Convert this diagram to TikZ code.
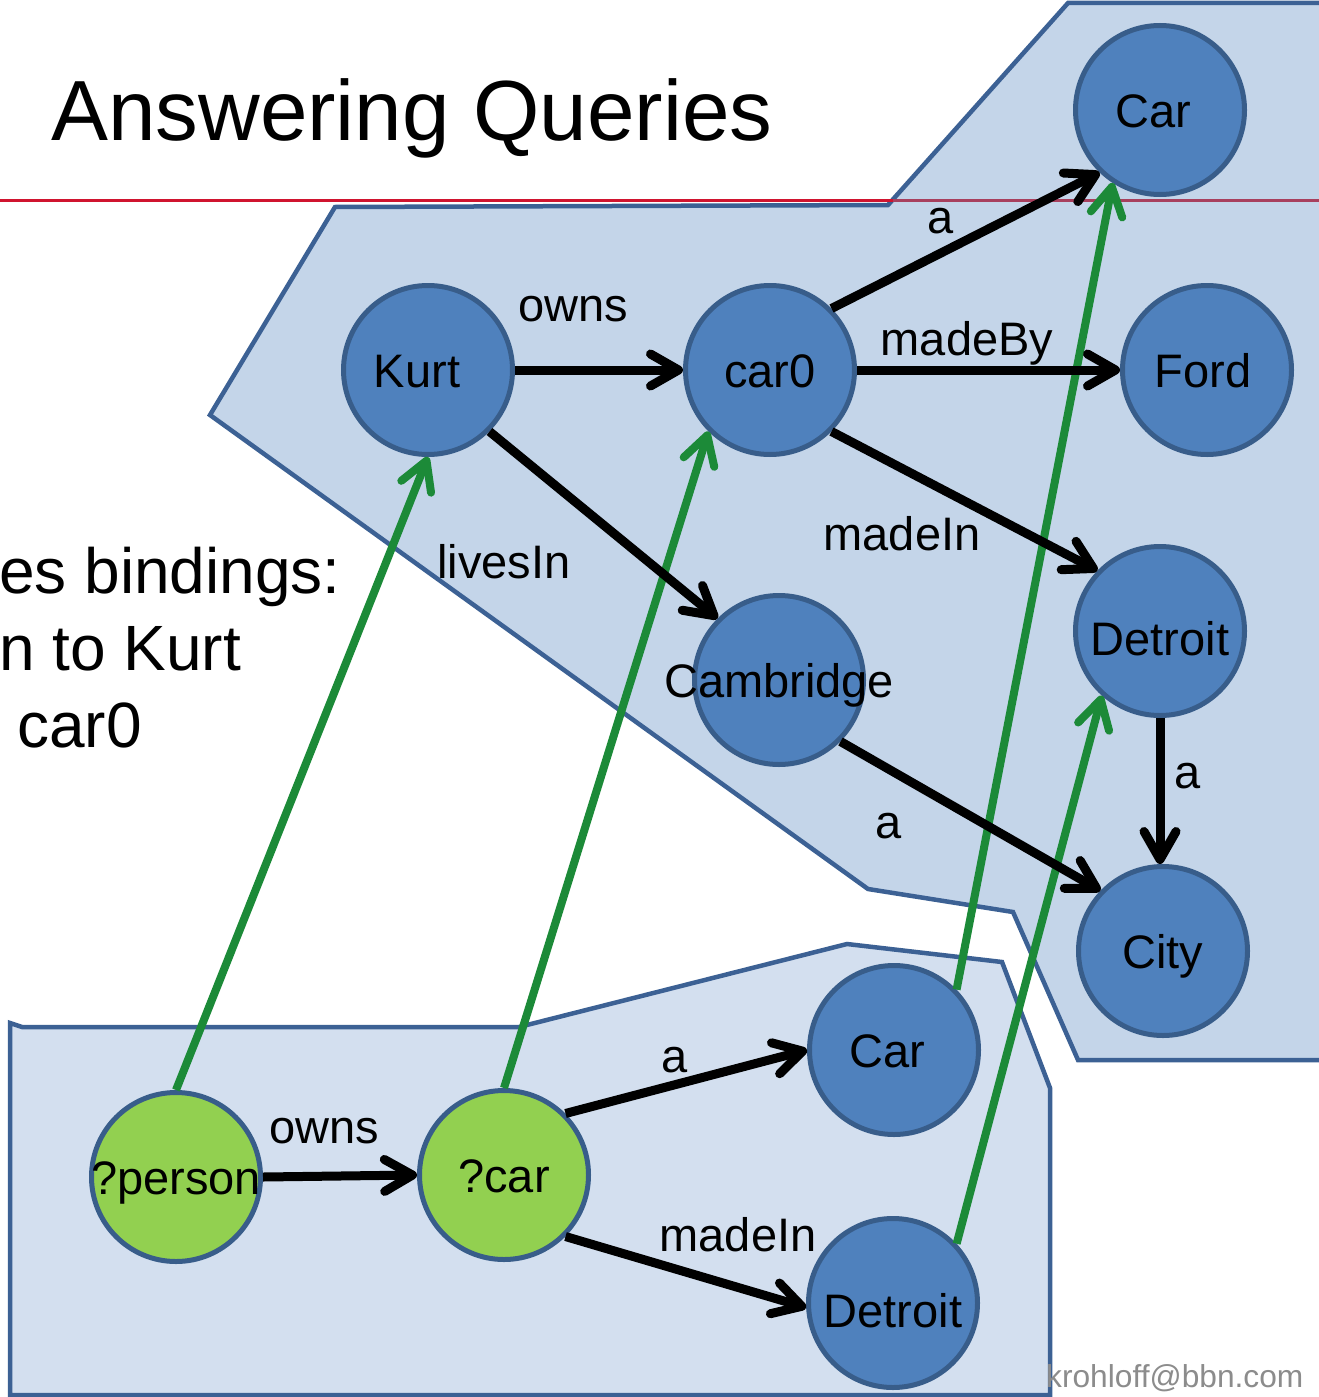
\documentclass[tikz,border=0pt]{standalone}
\usepackage{fontspec}
\setmainfont{Liberation Sans}
\usetikzlibrary{arrows.meta}

\definecolor{nodeblue}{HTML}{4F81BD}
\definecolor{nodeline}{HTML}{385D8A}
\definecolor{vargreen}{HTML}{92D050}
\definecolor{regiontop}{HTML}{C4D5E9}
\definecolor{regionbottom}{HTML}{D3DFEF}
\definecolor{regionline}{HTML}{3C6194}
\definecolor{bindgreen}{HTML}{1C8A38}
\definecolor{ruleRed}{HTML}{D0142F}
\definecolor{ruleDark}{HTML}{A8405E}
\definecolor{footgray}{HTML}{8C8C8C}

\newcommand\graphfont{\fontsize{47}{56}\selectfont}
\newcommand\titlefont{\fontsize{85.4}{100}\selectfont}
\newcommand\sidefont{\fontsize{64}{76}\selectfont}
\newcommand\footfont{\fontsize{31.7}{36}\selectfont}

\tikzset{
  vertex/.style={circle, minimum size=169pt, inner sep=0pt, line width=5pt,
                 draw=nodeline, fill=nodeblue},
  qvar/.style={vertex, fill=vargreen},
  region/.style={line width=4.5pt, draw=regionline, line join=miter},
  link/.style={line width=9pt, draw=black,
               -{Straight Barb[length=28pt,width=32pt,round]}},
  binding/.style={link, line width=8pt, draw=bindgreen},
  vtext/.style={font=\graphfont, inner sep=0pt, text height=35pt, text depth=0pt},
  etext/.style={font=\graphfont, inner sep=0pt, anchor=base},
}

\begin{document}
\begin{tikzpicture}[x=1pt,y=-1pt]
\useasboundingbox (0,0) rectangle (1318,1397);
\fill[white] (0,0) rectangle (1318,1397);

% data graph region
\filldraw[region, fill=regiontop]
  (1068,3) -- (1330,3) -- (1330,1060) -- (1078,1060) -- (1013,912)
  -- (868,889) -- (210,415) -- (335,207) -- (888,205) -- cycle;

% query pattern region
\filldraw[region, fill=regionbottom]
  (10,1023) -- (22,1027) -- (519,1027) -- (847,944) -- (1002,962)
  -- (1050,1088) -- (1050,1395) -- (10,1395) -- cycle;

% title rule
\draw[ruleRed, line width=3pt] (0,200) -- (893,200);
\draw[ruleDark, line width=3pt] (893,200) -- (1330,200);

% title and side text
\node[font=\titlefont, anchor=base west, inner sep=0pt] (title) at (51,140) {Answering Queries};
\node[font=\sidefont, anchor=base west, inner sep=0pt] (side1) at (-1,593) {es bindings:};
\node[font=\sidefont, anchor=base west, inner sep=0pt] (side2) at (-1,670) {n to Kurt};
\node[font=\sidefont, anchor=base west, inner sep=0pt] (side3) at (17,747) {car0};

% data graph
\node[vertex] (carT)  at (1160,110) {};
\node[vertex] (kurt)  at (428,370)  {};
\node[vertex] (car0)  at (770,370)  {};
\node[vertex] (ford)  at (1207,370) {};
\node[vertex] (detT)  at (1160,631) {};
\node[vertex] (camb)  at (779,680)  {};
\node[vertex] (city)  at (1163,951) {};

% query pattern
\node[qvar]   (person) at (176,1177) {};
\node[qvar]   (qcar)   at (504,1175) {};
\node[vertex] (carB)   at (894,1050) {};
\node[vertex] (detB)   at (893,1303) {};

% variable bindings
\draw[binding] (person.90) -- (kurt.270);
\draw[binding] (qcar.90)   -- (car0.225);
\draw[binding] (carB.44)   -- (carT.237);
\draw[binding] (detB.43)   -- (detT.228);

% data edges
\draw[link] (kurt.0)   -- (car0.180);
\draw[link] (car0.45)  -- (carT.226);
\draw[link] (car0.0)   -- (ford.180);
\draw[link] (car0.315) -- (detT.136);
\draw[link] (kurt.315) -- (camb.135);
\draw[link] (camb.315) -- (city.136);
\draw[link] (detT.270) -- (detT.270 |- city.north);

% query edges
\draw[link] (person.0) -- (qcar.180);
\draw[link] (qcar.45)  -- (carB.180);
\draw[link] (qcar.315) -- (detB.183);

% edge labels
\node[etext] (l1)  at (573,321)  {owns};
\node[etext] (l2)  at (941,233)  {a};
\node[etext] (l3)  at (967,355)  {madeBy};
\node[etext] (l4)  at (902,550)  {madeIn};
\node[etext] (l5)  at (504,578)  {livesIn};
\node[etext] (l6)  at (889,838)  {a};
\node[etext] (l7)  at (1188,788) {a};
\node[etext] (l8)  at (324,1143) {owns};
\node[etext] (l9)  at (675,1072) {a};
\node[etext] (l10) at (738,1251) {madeIn};

% vertex labels
\node[vtext] (tCarT) at ([xshift=-7pt]carT) {Car};
\node[vtext] (tKurt) at ([xshift=-11pt]kurt) {Kurt};
\node[vtext] (tCar0) at (car0)   {car0};
\node[vtext] (tFord) at ([xshift=-4pt]ford) {Ford};
\node[vtext] (tDetT) at ([yshift=-7pt]detT) {Detroit};
\node[vtext] (tCamb) at (camb)   {Cambridge};
\node[vtext] (tCity) at (city)   {City};
\node[vtext] (tPers) at (person) {?person};
\node[vtext] (tQcar) at (qcar)   {?car};
\node[vtext] (tCarB) at ([xshift=-7pt]carB) {Car};
\node[vtext] (tDetB) at ([yshift=-7pt]detB) {Detroit};

% footer
\node[font=\footfont, text=footgray, anchor=base west, inner sep=0pt] (foot) at (1046,1387) {krohloff@bbn.com};
\end{tikzpicture}
\end{document}
